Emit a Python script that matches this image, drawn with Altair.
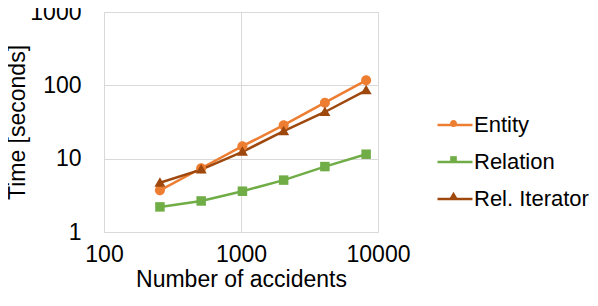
import altair as alt
import pandas as pd

accidents = [256, 512, 1024, 2048, 4096, 8192]
entity = [3.7, 7.4, 14.8, 28.6, 58, 117]
relation = [2.2, 2.65, 3.6, 5.1, 7.8, 11.5]
rel_iter = [4.7, 7.1, 12.4, 23.7, 43.3, 85.5]
series = ["Entity", "Relation", "Rel. Iterator"]
colors = ["#ED7D31", "#70AD47", "#9E480E"]
# marker outlines in a [-1, 1] box (scaled by the symbol size)
shapes = [
    "M-0.2,0A0.2,0.2 0 1,1 0.2,0A0.2,0.2 0 1,1 -0.2,0Z",
    "M-0.19,-0.19H0.19V0.19H-0.19Z",
    "M0,-0.22L0.22,0.16H-0.22Z",
]

rows = []
for name, vals in zip(series, [entity, relation, rel_iter]):
    for a, v in zip(accidents, vals):
        rows.append({"accidents": a, "time": v, "series": name, "series_line": name})
df = pd.DataFrame(rows)

FONT = "Liberation Sans"
FS = 23

x = alt.X(
    "accidents:Q",
    scale=alt.Scale(type="log", domain=[100, 10000], nice=False),
    axis=alt.Axis(values=[100, 1000, 10000], format="d", title="Number of accidents",
                  labelPadding=11, titlePadding=2, ticks=False, domain=False,
                  gridColor="#d9d9d9", labelFlush=False),
)
y = alt.Y(
    "time:Q",
    scale=alt.Scale(type="log", domain=[1, 1000], nice=False),
    axis=alt.Axis(values=[1, 10, 100, 1000], format="d", title="Time [seconds]",
                  labelPadding=23, ticks=False, domain=False,
                  titleX=-87, titleY=110, titleBaseline="middle", titleAlign="center",
                  titleAngle=270,
                  gridColor="#d9d9d9", labelFlush=False),
)

leg_common = dict(orient="none", title=None, labelFontSize=22, labelFont=FONT,
                  labelColor="#000000", rowPadding=7, labelOffset=0,
                  symbolSize=1225, legendX=332, legendY=94)

lines = alt.Chart(df).mark_line(strokeWidth=2.5).encode(
    x=x, y=y,
    stroke=alt.Stroke("series_line:N", sort=series, scale=alt.Scale(range=colors),
                      legend=alt.Legend(symbolType="stroke", symbolStrokeWidth=2.5,
                                        **leg_common)),
)

points = alt.Chart(df).mark_point(filled=True, size=2500, opacity=1, strokeWidth=0).encode(
    x=x, y=y,
    color=alt.Color("series:N", scale=alt.Scale(domain=series, range=colors),
                    legend=alt.Legend(labelOpacity=0, symbolOpacity=1,
                                      symbolStrokeWidth=0, **leg_common)),
    shape=alt.Shape("series:N", scale=alt.Scale(domain=series, range=shapes),
                    legend=alt.Legend(labelOpacity=0, symbolOpacity=1,
                                      symbolStrokeWidth=0, **leg_common)),
)

chart = alt.layer(lines, points).properties(
    width=274, height=220,
    autosize=alt.AutoSizeParams(type="none"),
    padding={"left": 96, "top": 4, "right": 212, "bottom": 66},
).configure_view(stroke="#d9d9d9").configure_axis(
    labelFont=FONT, titleFont=FONT, labelFontSize=FS, titleFontSize=FS,
    labelColor="#000000", titleColor="#000000", titleFontWeight="normal",
)

chart.save("out.html", embed_options={"renderer": "svg", "actions": False})
